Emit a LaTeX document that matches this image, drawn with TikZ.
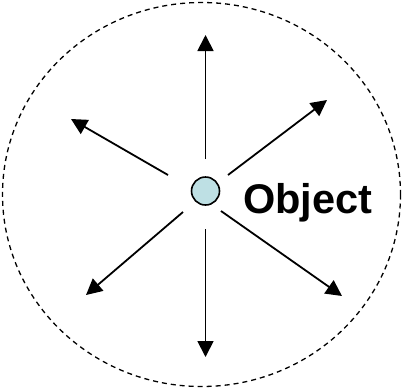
\documentclass[tikz,border=0pt]{standalone}
\usepackage{fontspec}
\setmainfont{Liberation Sans}
\usetikzlibrary{arrows.meta, positioning}
\definecolor{dotblue}{RGB}{190,224,228}

\begin{document}
\begin{tikzpicture}[x=1pt, y=-1pt,
		halo/.style={dashed, dash pattern=on 5pt off 4pt, line width=1.3pt},
		obj_dot/.style={draw, circle, fill=dotblue, line width=1.6pt, minimum size=28pt, inner sep=0pt},
		obj_text/.style={font=\fontsize{41.5}{41.5}\selectfont\bfseries, inner sep=0pt, anchor=base west},
		ray/.style={-{Triangle[length=16pt, width=16pt]}, line width=1.8pt}
		]
		\useasboundingbox (0,0) rectangle (403,389);
		
		% Dashed boundary round the object
		\draw[halo] (201.5,194.5) ellipse [x radius=199, y radius=192];
		
		% Object
		\node[obj_dot] (obj) at (205.5,191) {};
		\node[obj_text] (name) at (243,213) {Object};
		
		% Ray ends
		\coordinate (sN) at (205.5,159);   \coordinate (tN) at (205.5,35);
		\coordinate (sNE) at (228,175);    \coordinate (tNE) at (327,100);
		\coordinate (sSE) at (221,211);    \coordinate (tSE) at (342,296);
		\coordinate (sS) at (205.5,229);   \coordinate (tS) at (205.5,357);
		\coordinate (sSW) at (183,212);    \coordinate (tSW) at (86,295);
		\coordinate (sNW) at (168,175);    \coordinate (tNW) at (71,119);
		
		% Rays
		\foreach \d in {N, NE, SE, S, SW, NW}
			\draw[ray] (s\d) -- (t\d);
		
	\end{tikzpicture}
\end{document}
